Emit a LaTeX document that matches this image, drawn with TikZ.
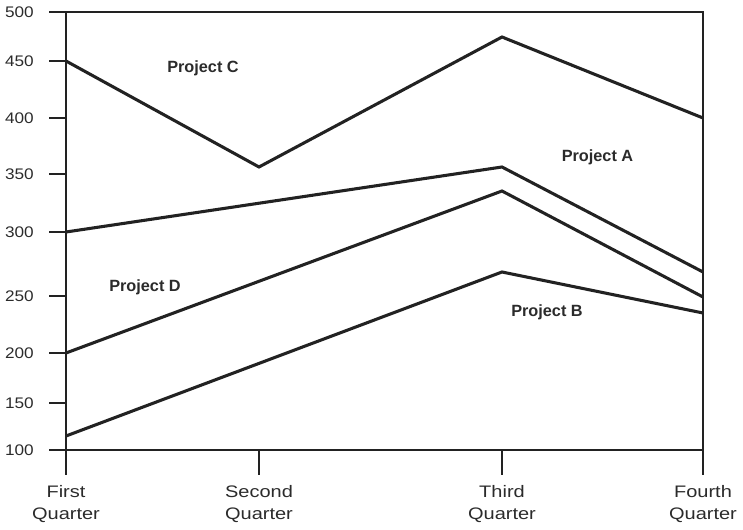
\documentclass[tikz,border=0pt]{standalone}
\usepackage{fontspec}
\setmainfont{Liberation Sans}
\newfontfamily\axisfont[FakeStretch=1.12]{Liberation Sans}
\newfontfamily\quarterfont[FakeStretch=1.2]{Liberation Sans}
\definecolor{ink}{HTML}{222222}
\definecolor{txt}{HTML}{2B2B2B}
\begin{document}
\begin{tikzpicture}[x=0.75pt,y=-0.75pt,
  frame/.style={draw=ink,line width=1.9pt},
  tickline/.style={draw=ink,line width=1.1pt},
  series/.style={draw=ink,line width=2.3pt,line join=miter},
  ylab/.style={anchor=east,inner sep=0pt,text=txt,font=\axisfont\fontsize{11.5}{13}\selectfont},
  xlab/.style={anchor=north,inner sep=0pt,align=center,text=txt,font=\quarterfont\fontsize{12.5}{16.5}\selectfont},
  proj/.style={inner sep=0pt,text=txt,font=\bfseries\fontsize{12.2}{14}\selectfont}]
\useasboundingbox (0,0) rectangle (743,530);

% y axis ticks and labels (value -> pixel row)
\foreach \v/\py in {500/12,450/61,400/118,350/174,300/232,250/296,200/353,150/403,100/450}{
  \coordinate (yt\v) at (49,\py);
  \coordinate (ya\v) at (66,\py);
  \draw[tickline] (yt\v) -- (ya\v);
  \node[ylab] (yl\v) at (34,\py) {\v};
}

% x axis ticks and labels
\foreach \n/\px/\lab in {1/66/First,2/259/Second,3/502/Third,4/703/Fourth}{
  \coordinate (xa\n) at (\px,450);
  \coordinate (xt\n) at (\px,475);
  \draw[tickline] (xa\n) -- (xt\n);
  \node[xlab] (xl\n) at (\px,485) {\lab\\Quarter};
}

% plot frame
\draw[frame] (66,12) rectangle (703,450);

% data points
\coordinate (c1) at (66,61);  \coordinate (c2) at (259,167);
\coordinate (c3) at (502,37); \coordinate (c4) at (703,118);
\coordinate (a1) at (66,232); \coordinate (a3) at (502,167); \coordinate (a4) at (703,272);
\coordinate (d1) at (66,353); \coordinate (d3) at (502,191); \coordinate (d4) at (703,297);
\coordinate (b1) at (66,436); \coordinate (b3) at (502,272); \coordinate (b4) at (703,313);

% series
\draw[series] (c1) -- (c2) -- (c3) -- (c4);
\draw[series] (a1) -- (a3) -- (a4);
\draw[series] (d1) -- (d3) -- (d4);
\draw[series] (b1) -- (b3) -- (b4);

% series labels
\node[proj] (pc) at (203,68) {Project C};
\node[proj] (pa) at (597.5,157) {Project A};
\node[proj] (pd) at (145,287) {Project D};
\node[proj] (pb) at (547,312) {Project B};
\end{tikzpicture}
\end{document}
